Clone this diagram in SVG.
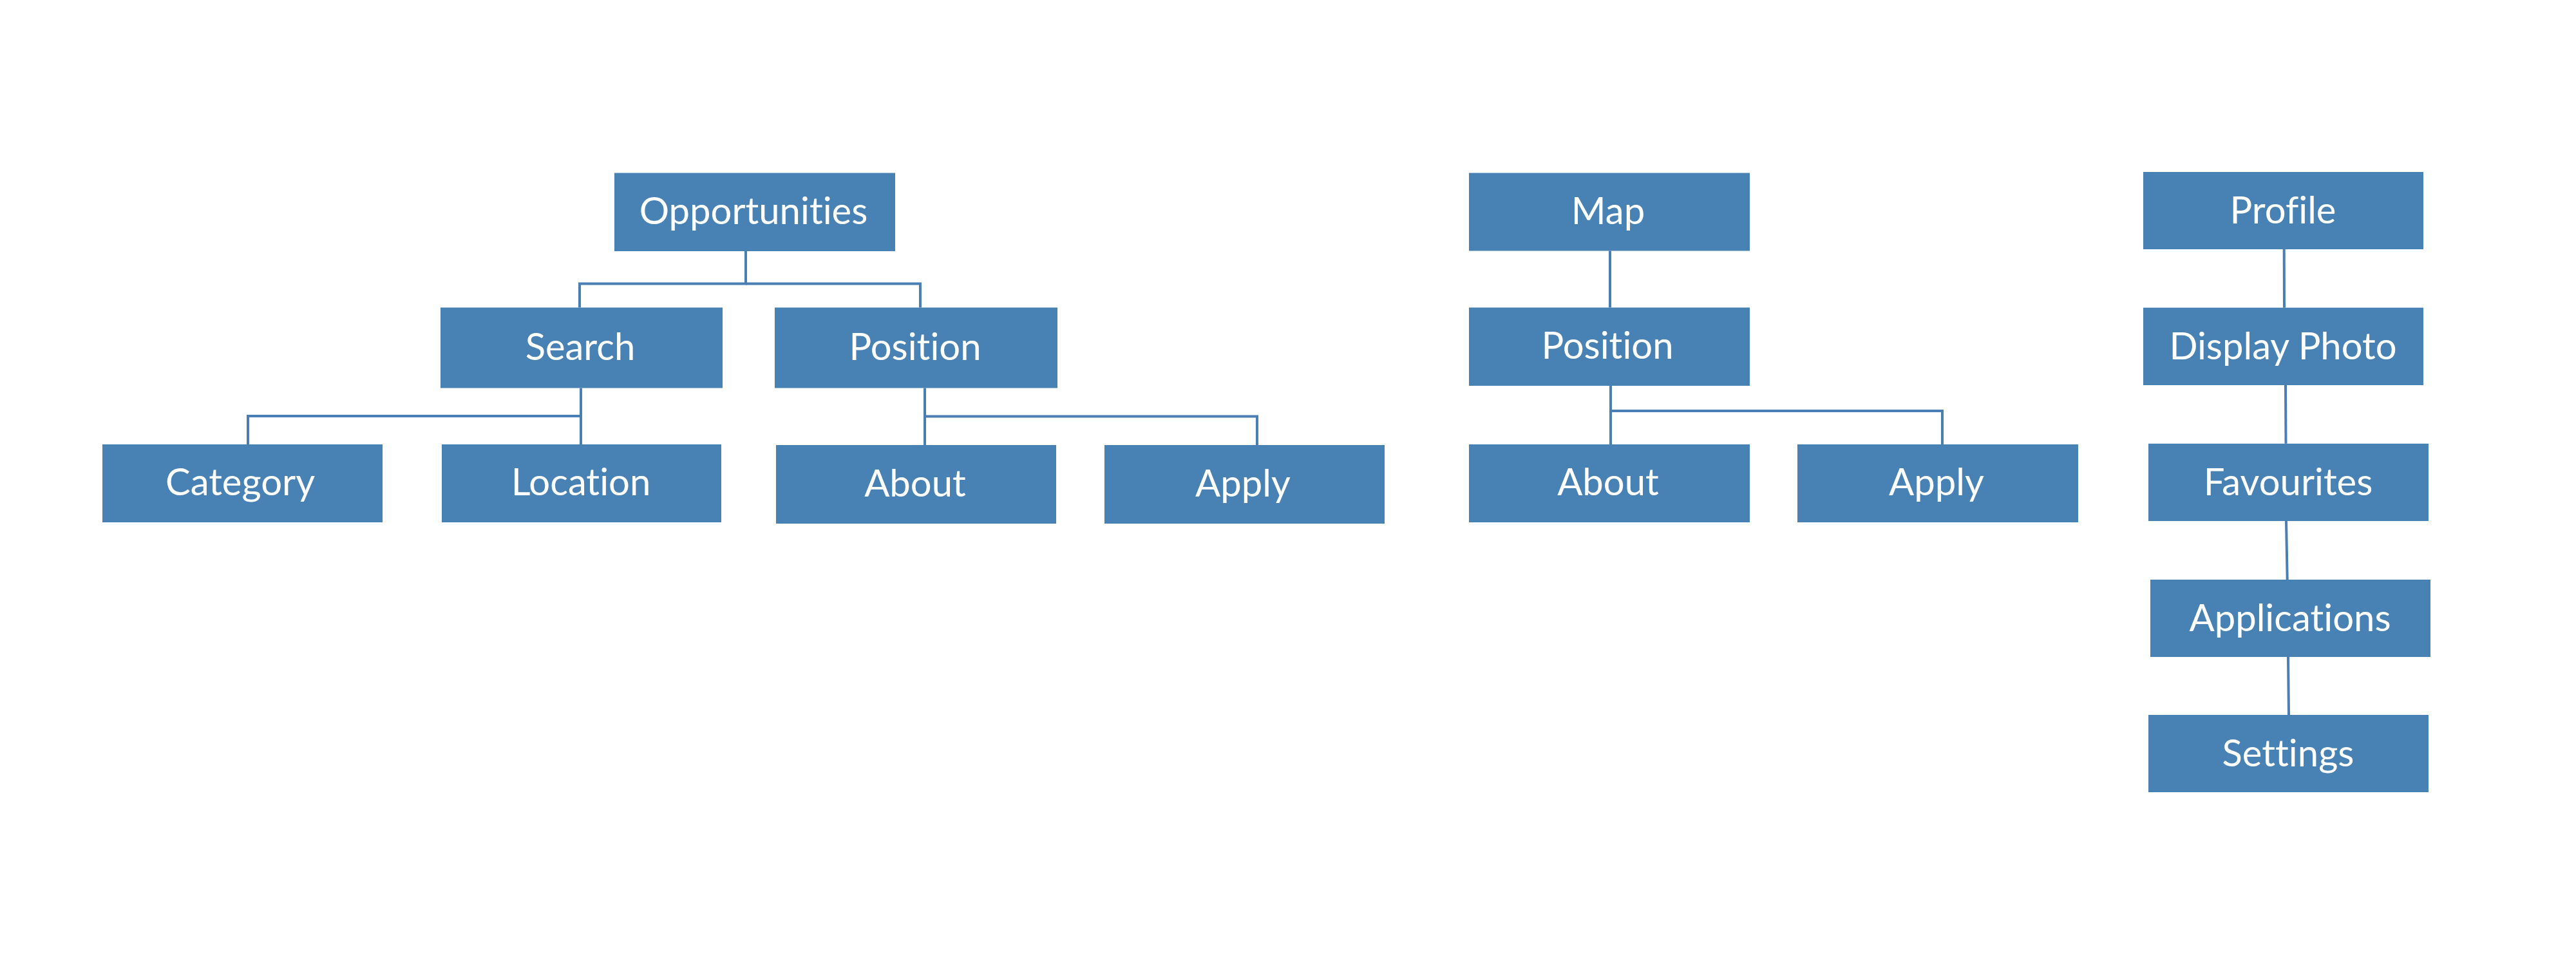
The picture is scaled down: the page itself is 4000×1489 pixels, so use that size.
<svg xmlns="http://www.w3.org/2000/svg" width="4000" height="1489" viewBox="0 0 4000 1489">
<style>
.box{fill:#4881b4;}
.lbl{fill:#ffffff;font-family:Lato,"Open Sans","Liberation Sans",sans-serif;font-size:58px;text-anchor:middle;font-variant-ligatures:none;font-feature-settings:"liga" 0;}
.con{fill:none;stroke:#4a7fb5;stroke-width:4;}
</style>
<rect width="4000" height="1489" fill="#ffffff"/>
<g id="connectors">
<path class="con" d="M1158 390 V440.5 H900 V477.5"/>
<path class="con" d="M1158 440.5 H1429 V477.5"/>
<path class="con" d="M902 602.6 V646 H385 V690"/>
<path class="con" d="M902 646 V690"/>
<path class="con" d="M1436 602.6 V646.6 H1952 V691"/>
<path class="con" d="M1436 646.6 V691"/>
<path class="con" d="M2500 389.5 L2500 477.5"/>
<path class="con" d="M2501 599 V638 H3016 V690"/>
<path class="con" d="M2501 638 V690"/>
<path class="con" d="M3546.7 387 L3547 477.7"/>
<path class="con" d="M3549 598 L3549.5 688.8"/>
<path class="con" d="M3550 809 L3551.7 900"/>
<path class="con" d="M3553 1020 L3554 1110"/>
</g>
<g id="n-opportunities"><rect class="box" x="954" y="268.5" width="436" height="121.5"/><text class="lbl" x="1170" y="348">Opportunities</text></g>
<g id="n-search"><rect class="box" x="684" y="477.5" width="438" height="125"/><text class="lbl" x="901" y="559">Search</text></g>
<g id="n-position1"><rect class="box" x="1203" y="477.5" width="439" height="125"/><text class="lbl" x="1421" y="559">Position</text></g>
<g id="n-category"><rect class="box" x="159" y="690" width="435" height="121"/><text class="lbl" x="373" y="769">Category</text></g>
<g id="n-location"><rect class="box" x="686" y="690" width="434" height="121"/><text class="lbl" x="902" y="769">Location</text></g>
<g id="n-about1"><rect class="box" x="1205" y="691" width="435" height="122"/><text class="lbl" x="1421" y="771">About</text></g>
<g id="n-apply1"><rect class="box" x="1715" y="691" width="435" height="122"/><text class="lbl" x="1930" y="771">Apply</text></g>
<g id="n-map"><rect class="box" x="2281" y="268.5" width="436" height="121"/><text class="lbl" x="2497" y="348">Map</text></g>
<g id="n-position2"><rect class="box" x="2281" y="477.5" width="436" height="121.5"/><text class="lbl" x="2496" y="557">Position</text></g>
<g id="n-about2"><rect class="box" x="2281" y="690" width="436" height="121"/><text class="lbl" x="2497" y="769">About</text></g>
<g id="n-apply2"><rect class="box" x="2791" y="690" width="436" height="121"/><text class="lbl" x="3007" y="769">Apply</text></g>
<g id="n-profile"><rect class="box" x="3328" y="267" width="435" height="120"/><text class="lbl" x="3545" y="347">Profile</text></g>
<g id="n-displayphoto"><rect class="box" x="3328" y="477.7" width="435" height="120.3"/><text class="lbl" x="3545" y="558">Display Photo</text></g>
<g id="n-favourites"><rect class="box" x="3336" y="688.8" width="435" height="120.2"/><text class="lbl" x="3553" y="769">Favourites</text></g>
<g id="n-applications"><rect class="box" x="3339" y="900" width="435" height="120"/><text class="lbl" x="3556" y="980">Applications</text></g>
<g id="n-settings"><rect class="box" x="3336" y="1110" width="435" height="120"/><text class="lbl" x="3553" y="1190">Settings</text></g>
</svg>
